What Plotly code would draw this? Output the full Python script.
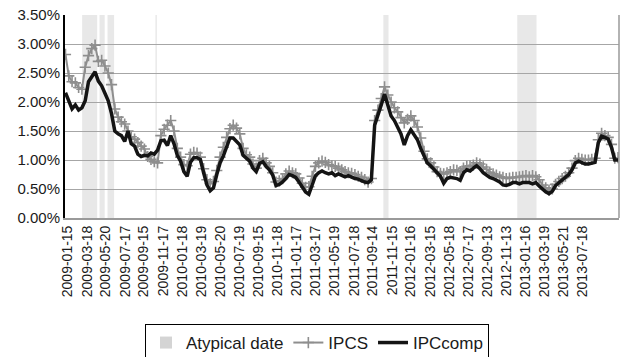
import plotly.graph_objects as go

# observation index step between plotted samples (trading days)
step = 7

ipcs = [2.82, 2.45, 2.35, 2.33, 2.25, 2.22, 2.6, 2.8, 2.92, 2.98,
        2.7, 2.72, 2.62, 2.5, 2.3, 1.88, 1.74, 1.66, 1.62, 1.5,
        1.4, 1.36, 1.3, 1.24, 1.19, 1.06, 1.01, 0.97, 0.95, 1.42,
        1.53, 1.6, 1.68, 1.5, 1.2, 1.05, 0.92, 0.9, 1.1, 1.13,
        1.12, 1.05, 0.85, 0.66, 0.59, 0.63, 0.82, 1.05, 1.22, 1.39,
        1.54, 1.6, 1.55, 1.45, 1.2, 1.09, 1.05, 0.93, 0.86, 0.99,
        1.03, 0.95, 0.89, 0.78, 0.62, 0.64, 0.68, 0.76, 0.81, 0.78,
        0.76, 0.69, 0.6, 0.53, 0.54, 0.72, 0.89, 0.95, 0.98, 0.96,
        0.92, 0.9, 0.89, 0.86, 0.83, 0.8, 0.78, 0.77, 0.75, 0.72,
        0.70, 0.66, 0.62, 0.68, 1.68, 1.86, 2.06, 2.26, 2.12, 2.0,
        1.9, 1.83, 1.73, 1.64, 1.7, 1.76, 1.68, 1.57, 1.38, 1.15,
        1.02, 0.95, 0.88, 0.8, 0.77, 0.76, 0.78, 0.8, 0.83, 0.82,
        0.8, 0.86, 0.89, 0.9, 0.91, 0.95, 0.93, 0.88, 0.84, 0.79,
        0.76, 0.74, 0.71, 0.70, 0.68, 0.69, 0.70, 0.70, 0.71, 0.72,
        0.73, 0.71, 0.73, 0.71, 0.66, 0.57, 0.52, 0.48, 0.5, 0.58,
        0.63, 0.68, 0.72, 0.78, 0.86, 0.99, 1.03, 1.01, 1.0, 1.0,
        1.01, 1.03, 1.35, 1.46, 1.42, 1.39, 1.27, 1.03, 1.04]

ipccomp = [2.16, 2.0, 1.88, 1.95, 1.86, 1.9, 2.02, 2.35, 2.45, 2.52,
           2.36, 2.28, 2.15, 2.02, 1.8, 1.5, 1.45, 1.42, 1.32, 1.5,
           1.28, 1.24, 1.1, 1.06, 1.08, 1.07, 1.12, 1.1, 1.17, 1.33,
           1.34, 1.25, 1.42, 1.28, 1.08, 0.98, 0.8, 0.72, 0.96, 1.04,
           1.04, 1.01, 0.78, 0.57, 0.47, 0.52, 0.75, 0.95, 1.07, 1.22,
           1.38, 1.38, 1.33, 1.26, 1.08, 1.02, 0.98, 0.86, 0.8, 0.94,
           0.97, 0.89, 0.83, 0.74, 0.56, 0.58, 0.62, 0.68, 0.75, 0.73,
           0.70, 0.62, 0.52, 0.45, 0.41, 0.56, 0.73, 0.78, 0.81, 0.78,
           0.76, 0.78, 0.73, 0.76, 0.73, 0.71, 0.73, 0.70, 0.68, 0.67,
           0.64, 0.62, 0.61, 0.66, 1.6, 1.8, 1.95, 2.14, 1.95, 1.76,
           1.68, 1.58, 1.45, 1.26, 1.42, 1.52, 1.43, 1.35, 1.2, 1.06,
           0.95, 0.9, 0.84, 0.78, 0.72, 0.6, 0.68, 0.70, 0.69, 0.68,
           0.65, 0.78, 0.83, 0.81, 0.86, 0.9, 0.85, 0.78, 0.74, 0.70,
           0.68, 0.65, 0.62, 0.57, 0.56, 0.58, 0.61, 0.61, 0.59, 0.61,
           0.61, 0.61, 0.59, 0.61, 0.55, 0.49, 0.45, 0.42, 0.46, 0.56,
           0.61, 0.65, 0.70, 0.75, 0.83, 0.95, 0.98, 0.96, 0.93, 0.93,
           0.94, 0.96, 1.3, 1.41, 1.39, 1.36, 1.22, 1.0, 1.0]

tick_idx = [5, 46, 86, 127, 167, 208, 248, 289, 330, 370, 411, 451, 492, 533,
            573, 614, 654, 695, 735, 776, 817, 857, 898, 938, 979, 1020, 1060, 1101]
tick_labels = ["2009-01-15", "2009-03-18", "2009-05-20", "2009-07-17", "2009-09-15",
               "2009-11-17", "2010-01-18", "2010-03-19", "2010-05-20", "2010-07-19",
               "2010-09-15", "2010-11-18", "2011-01-17", "2011-03-17", "2011-05-19",
               "2011-07-18", "2011-09-14", "2011-11-15", "2012-01-16", "2012-03-15",
               "2012-05-18", "2012-07-17", "2012-09-13", "2012-11-13", "2013-01-16",
               "2013-03-19", "2013-05-21", "2013-07-18"]

# atypical date spans (observation index start, end)
atyp_start = [36, 73, 90, 192, 677, 962]
atyp_end = [67, 83, 103, 194, 687, 1002]

y_ticks = [0, 0.5, 1.0, 1.5, 2.0, 2.5, 3.0, 3.5]
y_labels = ["0.00%", "0.50%", "1.00%", "1.50%", "2.00%", "2.50%", "3.00%", "3.50%"]

x = [i * step for i in range(len(ipcs))]
FONT = "Liberation Sans, Arial, sans-serif"
GRAY = "#8e8e8e"

fig = go.Figure()

# legend entry for the atypical-date bands
fig.add_trace(go.Bar(x=[None], y=[None], name="Atypical date",
                     marker=dict(color="#d4d4d4", line=dict(width=0)), showlegend=True))
fig.add_trace(go.Scatter(x=x, y=ipcs, name="IPCS", mode="lines+markers",
                         line=dict(color=GRAY, width=2),
                         marker=dict(symbol="cross-thin", size=8, color=GRAY,
                                     line=dict(color=GRAY, width=1.6))))
fig.add_trace(go.Scatter(x=x, y=ipccomp, name="IPCcomp", mode="lines",
                         line=dict(color="#141414", width=3.5)))

for s, e in zip(atyp_start, atyp_end):
    fig.add_shape(type="rect", xref="x", yref="y", x0=s - 0.5, x1=e + 0.5, y0=0, y1=3.5,
                  fillcolor="#e8e8e8", line=dict(width=0), layer="below")

# right frame border
fig.add_shape(type="line", xref="paper", yref="paper", x0=1, x1=1, y0=0, y1=1,
              line=dict(color="#9a9a9a", width=1.5))

fig.update_layout(
    width=621, height=357,
    margin=dict(l=65, r=2, t=15, b=139, autoexpand=False),
    plot_bgcolor="white", paper_bgcolor="white",
    font=dict(family=FONT, color="#1a1a1a"),
    bargap=0,
    xaxis=dict(range=[-1, 1178], tickmode="array", tickvals=tick_idx, ticktext=tick_labels,
               tickangle=-90, tickfont=dict(size=14, family=FONT), showgrid=False,
               showline=True, linecolor="#9a9a9a", linewidth=2, zeroline=False, ticks="",
               automargin=False),
    yaxis=dict(range=[0, 3.5], tickmode="array", tickvals=y_ticks, ticktext=y_labels,
               tickfont=dict(size=15, family=FONT), showgrid=True, gridcolor="#a6a6a6",
               gridwidth=1, showline=True, linecolor="#000000", linewidth=2,
               zeroline=False, ticks="", automargin=False),
    legend=dict(orientation="h", xref="container", yref="container",
                x=145 / 621, xanchor="left", y=1 - 324 / 357, yanchor="top",
                bordercolor="#000000", borderwidth=1, font=dict(size=17, family=FONT),
                tracegroupgap=0),
    showlegend=True,
)

fig.write_html("out.html", config={"displayModeBar": False},
               post_script="document.body.style.margin='0';")
